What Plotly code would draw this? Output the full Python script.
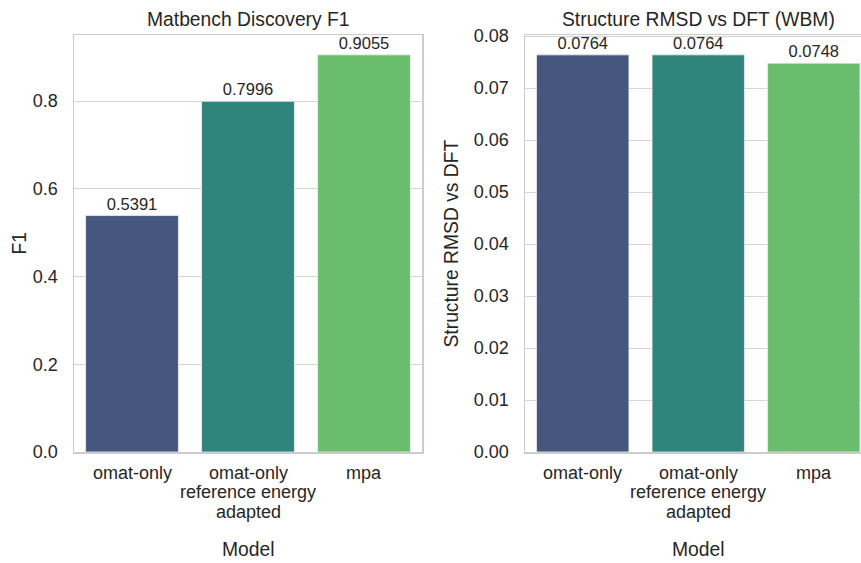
import plotly.graph_objects as go

# ---- data ----
models = ["omat-only", "omat-only\nreference energy\nadapted", "mpa"]
f1_values = [0.5391, 0.7996, 0.9055]
rmsd_values = [0.0764, 0.0764, 0.0748]
bar_colors = ["#46577f", "#2f847c", "#6bbd6e"]
left_title = "Matbench Discovery F1"
right_title = "Structure RMSD vs DFT (WBM)"
left_ylabel = "F1"
right_ylabel = "Structure RMSD vs DFT"
xlabel = "Model"

W, H = 861, 563
FONT = "Liberation Sans, Arial, sans-serif"
TXT = "#262626"
GRID = "#d5d5d5"
FRAME = "#cccccc"

def px_x(p):
    return p / W

def px_y(p):
    return 1 - p / H

cats = list(range(len(models)))

fig = go.Figure()
fig.add_trace(go.Bar(
    x=cats, y=f1_values, width=0.8, marker=dict(color=bar_colors, line=dict(color="#eeeeee", width=0.8)),
    text=[f"{v:.4f}" for v in f1_values], textposition="outside", cliponaxis=False,
    textfont=dict(size=16.5, color=TXT, family=FONT), xaxis="x", yaxis="y", showlegend=False,
))
fig.add_trace(go.Bar(
    x=cats, y=rmsd_values, width=0.8, marker=dict(color=bar_colors, line=dict(color="#eeeeee", width=0.8)),
    text=[f"{v:.4f}" for v in rmsd_values], textposition="outside", cliponaxis=False,
    textfont=dict(size=16.5, color=TXT, family=FONT), xaxis="x2", yaxis="y2", showlegend=False,
))

top_px, bot_px = 35, 452
ydom = [px_y(bot_px), px_y(top_px)]
x1dom = [px_x(74), px_x(422)]
x2dom = [px_x(525), 1.0]
unit2 = 115.5
x2_end = -0.5 + (W - 525) / unit2

common_x = dict(showgrid=False, zeroline=False, showticklabels=False, ticks="", automargin=False,
                showline=True, linecolor=FRAME, linewidth=1.5, fixedrange=True)
common_y = dict(showgrid=True, gridcolor=GRID, gridwidth=1, zeroline=False, ticks="", automargin=False,
                showline=True, linecolor=FRAME, linewidth=1.5, ticklabelstandoff=11,
                tickfont=dict(size=18, color=TXT, family=FONT))

fig.update_layout(
    width=W, height=H,
    margin=dict(l=0, r=0, t=0, b=0, autoexpand=False),
    paper_bgcolor="white", plot_bgcolor="white",
    font=dict(family=FONT, color=TXT),
    xaxis=dict(domain=x1dom, range=[-0.5, 2.5], mirror=True, **common_x),
    xaxis2=dict(domain=x2dom, range=[-0.5, x2_end], mirror=True, anchor="y2", **common_x),
    yaxis=dict(domain=ydom, range=[0, 0.9055 * 1.05], dtick=0.2, tickformat=".1f", mirror=True, anchor="x", **common_y),
    yaxis2=dict(domain=ydom, range=[0, 0.0764 * 1.05], dtick=0.01, tickformat=".2f", mirror=False, anchor="x2", **common_y),
    bargap=0.2,
)

ann = []
# titles
ann.append(dict(text=left_title, x=px_x(248), y=px_y(20), xref="paper", yref="paper",
                showarrow=False, font=dict(size=19.3, color=TXT, family=FONT), xanchor="center", yanchor="middle"))
ann.append(dict(text=right_title, x=px_x(525 + 3 * unit2 / 2), y=px_y(20), xref="paper", yref="paper",
                showarrow=False, font=dict(size=19.3, color=TXT, family=FONT), xanchor="center", yanchor="middle"))
# axis titles
ann.append(dict(text=xlabel, x=px_x(248), y=px_y(549), xref="paper", yref="paper",
                showarrow=False, font=dict(size=19.3, color=TXT, family=FONT), xanchor="center", yanchor="middle"))
ann.append(dict(text=xlabel, x=px_x(525 + 3 * unit2 / 2), y=px_y(549), xref="paper", yref="paper",
                showarrow=False, font=dict(size=19.3, color=TXT, family=FONT), xanchor="center", yanchor="middle"))
ann.append(dict(text=left_ylabel, x=px_x(19), y=px_y(243.5), xref="paper", yref="paper", textangle=-90,
                showarrow=False, font=dict(size=19.3, color=TXT, family=FONT), xanchor="center", yanchor="middle"))
ann.append(dict(text=right_ylabel, x=px_x(451), y=px_y(243.5), xref="paper", yref="paper", textangle=-90,
                showarrow=False, font=dict(size=19.3, color=TXT, family=FONT), xanchor="center", yanchor="middle"))
# category tick labels (multi-line, tight line spacing)
for xr in ("x", "x2"):
    for i, m in enumerate(models):
        for j, line in enumerate(m.split("\n")):
            ann.append(dict(text=line, x=cats[i], xref=xr, y=px_y(473 + 19.5 * j), yref="paper",
                            showarrow=False, font=dict(size=18, color=TXT, family=FONT),
                            xanchor="center", yanchor="middle"))
fig.update_layout(annotations=ann)

fig.write_html("out.html", config={"displayModeBar": False, "staticPlot": True},
               post_script="document.body.style.margin='0';document.body.style.padding='0';")
